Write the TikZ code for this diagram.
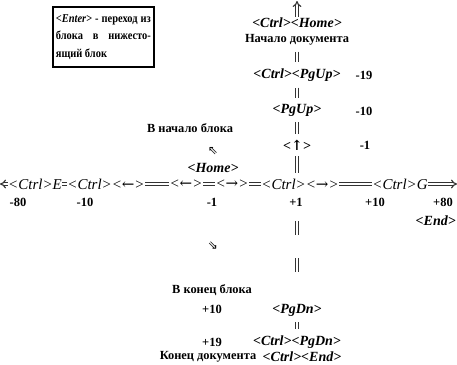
\documentclass[tikz,border=0pt]{standalone}
\usepackage{fontspec}
\setmainfont{Liberation Serif}
\newfontfamily\symf{DejaVu Sans}
\newfontfamily\arrf{DejaVu Serif}
\newfontfamily\boxf[FakeStretch=0.87]{Liberation Serif}
\newcommand\kla{{\arrf ←}}
\newcommand\kra{{\arrf →}}
\newcommand\kua{{\arrf ↑}}
\usetikzlibrary{arrows.meta}
\begin{document}
\begin{tikzpicture}[x=1pt,y=-1pt,
  key/.style={font=\fontsize{14}{16}\selectfont\bfseries\itshape, inner sep=1pt},
  rowkey/.style={font=\fontsize{15}{17}\selectfont\itshape, inner sep=0.5pt},
  lbl/.style={font=\fontsize{12.4}{15}\selectfont\bfseries, inner sep=1pt},
  num/.style={font=\fontsize{12.5}{15}\selectfont\bfseries, inner sep=1pt},
  sym/.style={font=\fontsize{12}{14}\symf, inner sep=0pt},
  dl/.style={double, double distance=1.8pt, line width=1.1pt, draw=black!80},
  dla/.style={dl, -{Implies}},
  vdl/.style={dl, shorten <=5pt, shorten >=5pt},
  infobox/.style={draw, line width=1.8pt, inner xsep=3pt, inner ysep=0pt,
    minimum width=101pt, minimum height=60pt, anchor=north west,
    font=\boxf\fontsize{12}{17.5}\selectfont\bfseries}
]
\useasboundingbox (0,0) rectangle (457,364);

% info box
\node[infobox] (enter) at (52,6) {\parbox{95pt}{\textit{<Enter>} \hfill- \hfill переход \hfill из\\
блока \hfill в \hfill нижесто-\\
ящий блок}};

% vertical column
\coordinate (top) at (297,1);
\node[key] (chome) at (297,23) {<Ctrl><Home>};
\node[lbl] (nd) at (297,40) {Начало документа};
\node[key] (cpgup) at (297,75) {<Ctrl><PgUp>};
\node[key] (pgup) at (297,110) {<PgUp>};
\node[key] (up) at (297,145) {<\kua>};
\node[num] (m19) at (364,75) {-19};
\node[num] (m10r) at (364,111) {-10};
\node[num] (m1r) at (365,145) {-1};

\draw[dla] (chome) -- (top);
\draw[vdl] (nd) -- (cpgup);
\draw[vdl] (cpgup) -- (pgup);
\draw[vdl] (pgup) -- (up);

% main row
\coordinate (lend) at (0,184);
\coordinate (rend) at (457,184);
\node[rowkey] (cE) at (35,184) {<Ctrl>E};
\node[rowkey] (cL) at (106,184) {<Ctrl><\kla>};
\node[rowkey] (L) at (186,184) {<\kla>};
\node[rowkey] (R) at (232,184) {<\kra>};
\node[rowkey] (cR) at (300,184) {<Ctrl><\kra>};
\node[rowkey] (cG) at (400,184) {<Ctrl>G};
\draw[dla] (cE) -- (lend);
\draw[dl] (cE) -- (cL);
\draw[dl] (cL) -- (L);
\draw[dl] (L) -- (R);
\draw[dl] (R) -- (cR);
\draw[dl] (cR) -- (cG);
\draw[dla] (cG) -- (rend);
\draw[vdl] (up) -- (up |- cR.north);

% numbers
\node[num] (m80) at (18,202) {-80};
\node[num] (m10) at (85,202) {-10};
\node[num] (m1) at (212,202) {-1};
\node[num] (p1) at (296,202) {+1};
\node[num] (p10) at (375,202) {+10};
\node[num] (p80) at (443,202) {+80};
\node[key, anchor=east] (end) at (457,221) {<End>};

% left labels
\node[lbl] (vnach) at (190,128) {В начало блока};
\node[sym] (a1) at (213,151) {⇖};
\node[key] (home) at (213,168) {<Home>};
\node[sym] (a2) at (213,246) {⇘};
\node[lbl] (vkon) at (212,290) {В конец блока};
\node[num] (p10l) at (212,309) {+10};
\node[num] (p19) at (212,342) {+19};
\node[lbl] (kdoc) at (208,357) {Конец документа};

% lower column
\coordinate (b0) at (297,221);
\coordinate (b1) at (297,235);
\coordinate (b2) at (297,258);
\coordinate (b3) at (297,272);
\draw[dl] (b0) -- (b1);
\draw[dl] (b2) -- (b3);
\node[key] (pgdn) at (297,310) {<PgDn>};
\node[key] (cpgdn) at (297,342) {<Ctrl><PgDn>};
\node[key] (cend) at (302,357) {<Ctrl><End>};
\draw[vdl] (pgdn) -- (cpgdn);
\end{tikzpicture}
\end{document}
